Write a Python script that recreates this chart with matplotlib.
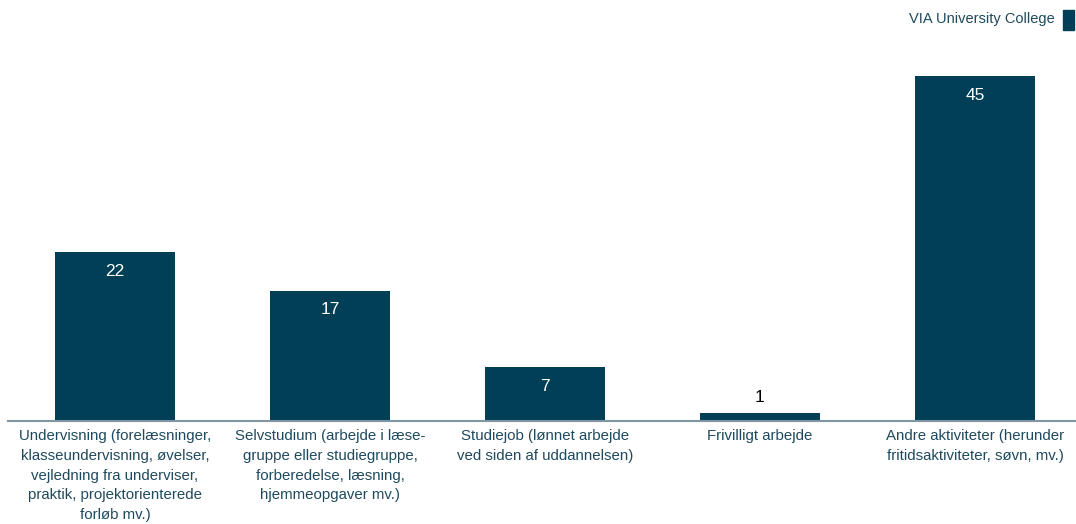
import matplotlib.pyplot as plt
from matplotlib.patches import Rectangle

categories = [
    "Undervisning (forelæsninger,\nklasseundervisning, øvelser,\nvejledning fra underviser,\npraktik, projektorienterede\nforløb mv.)",
    "Selvstudium (arbejde i læse-\ngruppe eller studiegruppe,\nforberedelse, læsning,\nhjemmeopgaver mv.)",
    "Studiejob (lønnet arbejde\nved siden af uddannelsen)",
    "Frivilligt arbejde",
    "Andre aktiviteter (herunder\nfritidsaktiviteter, søvn, mv.)",
]
values = [22, 17, 7, 1, 45]

bar_color = "#003f56"
text_color = "#1f4a5e"
axis_color = "#8094a2"

plt.rcParams['font.family'] = ['Liberation Sans', 'DejaVu Sans']

fig = plt.figure(figsize=(10.76, 5.24), dpi=100)
W, H = 1076, 524
ax = fig.add_axes([7.5 / W, (H - 421) / H, 1075 / W, 345 / H])

x = range(len(values))
ax.bar(x, values, width=0.558, color=bar_color, zorder=2)
ax.set_xlim(-0.5, 4.5)
ax.set_ylim(0, 45)

for spine in ["top", "right", "left"]:
    ax.spines[spine].set_visible(False)
ax.spines["bottom"].set_color(axis_color)
ax.spines["bottom"].set_linewidth(1.5)
ax.set_yticks([])
ax.set_xticks(list(x))
ax.set_xticklabels(categories, fontsize=10.8, color=text_color, linespacing=1.52, va="top")
ax.tick_params(axis="x", length=0, pad=6)

# values inside the bar in white, small bars get a black label on top
for xi, v in zip(x, values):
    if v >= 5:
        ax.annotate(str(v), (xi, v), xytext=(0, -19), textcoords="offset pixels",
                    ha="center", va="center", color="white", fontsize=12.5)
    else:
        ax.annotate(str(v), (xi, v), xytext=(0, 16), textcoords="offset pixels",
                    ha="center", va="center", color="black", fontsize=12.5)

fig.text(1055 / W, 1 - 19 / H, "VIA University College", ha="right", va="center",
         fontsize=10.5, color=text_color)
fig.patches.append(Rectangle((1063 / W, 1 - 30 / H), 11 / W, 20 / H,
                             transform=fig.transFigure, color=bar_color, figure=fig))

fig.savefig("out.png", dpi=100)
